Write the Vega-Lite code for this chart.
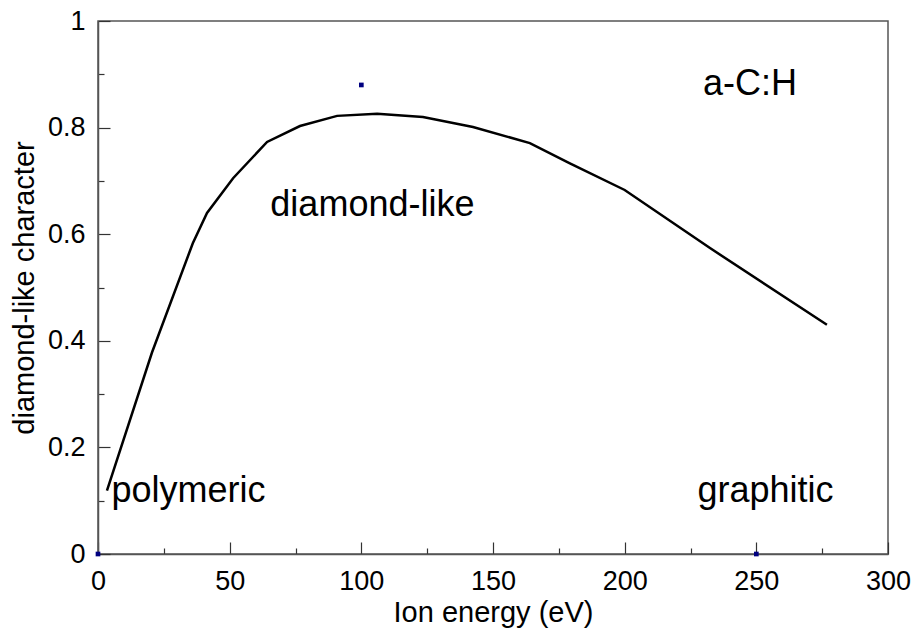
{
  "$schema": "https://vega.github.io/schema/vega-lite/v6.json",
  "width": 790,
  "height": 533,
  "autosize": {"type": "none"},
  "padding": {"left": 98, "top": 21, "right": 25, "bottom": 77},
  "background": "white",
  "config": {
    "font": "Liberation Sans",
    "view": {"stroke": "#555555", "strokeWidth": 1.5},
    "axis": {
      "domainColor": "#555555",
      "domainWidth": 1.5,
      "tickColor": "#333333",
      "tickWidth": 1.2,
      "grid": false,
      "labelFont": "Liberation Sans",
      "labelFontSize": 27,
      "labelColor": "black",
      "titleFont": "Liberation Sans",
      "titleFontSize": 29,
      "titleFontWeight": "normal",
      "titleColor": "black"
    }
  },
  "datasets": {
    "curve": [
      {"energy": 3.4, "dlc": 0.119},
      {"energy": 20.5, "dlc": 0.378},
      {"energy": 36.0, "dlc": 0.583},
      {"energy": 41.4, "dlc": 0.640},
      {"energy": 51.3, "dlc": 0.705},
      {"energy": 64.2, "dlc": 0.773},
      {"energy": 76.7, "dlc": 0.803},
      {"energy": 90.8, "dlc": 0.822},
      {"energy": 106.0, "dlc": 0.826},
      {"energy": 123.4, "dlc": 0.820},
      {"energy": 142.4, "dlc": 0.801},
      {"energy": 164.0, "dlc": 0.771},
      {"energy": 179.2, "dlc": 0.733},
      {"energy": 200.0, "dlc": 0.683},
      {"energy": 232.4, "dlc": 0.574},
      {"energy": 276.8, "dlc": 0.430}
    ],
    "points": [
      {"energy": 0, "dlc": 0},
      {"energy": 100, "dlc": 0.88},
      {"energy": 250, "dlc": 0}
    ],
    "labels": [
      {"energy": 247.6, "dlc": 0.862, "text": "a-C:H"},
      {"energy": 104.2, "dlc": 0.634, "text": "diamond-like"},
      {"energy": 34.4, "dlc": 0.098, "text": "polymeric"},
      {"energy": 253.5, "dlc": 0.098, "text": "graphitic"}
    ]
  },
  "layer": [
    {
      "data": {"name": "curve"},
      "mark": {"type": "line", "color": "black", "strokeWidth": 2.5},
      "encoding": {
        "x": {
          "field": "energy",
          "type": "quantitative",
          "scale": {"domain": [0, 300], "nice": false, "zero": false},
          "axis": {
            "title": "Ion energy (eV)",
            "values": [0, 25, 50, 75, 100, 125, 150, 175, 200, 225, 250, 275, 300],
            "labelExpr": "datum.value % 50 === 0 ? datum.label : ''",
            "tickSize": {"condition": {"test": "datum.value % 50 === 0", "value": -12}, "value": -6},
            "labelPadding": 26,
            "labelFlush": false,
            "labelOverlap": false,
            "titlePadding": -2
          }
        },
        "y": {
          "field": "dlc",
          "type": "quantitative",
          "scale": {"domain": [0, 1], "nice": false},
          "axis": {
            "title": "diamond-like character",
            "values": [0, 0.1, 0.2, 0.3, 0.4, 0.5, 0.6, 0.7, 0.8, 0.9, 1],
            "format": "~g",
            "labelExpr": "round(datum.value * 10) % 2 === 0 ? datum.label : ''",
            "tickSize": {"condition": {"test": "round(datum.value * 10) % 2 === 0", "value": -12}, "value": -6},
            "labelPadding": 25,
            "labelFlush": false,
            "labelOverlap": false,
            "titlePadding": 8
          }
        }
      }
    },
    {
      "data": {"name": "points"},
      "mark": {"type": "square", "color": "#000080", "filled": true, "size": 22, "opacity": 1},
      "encoding": {
        "x": {"field": "energy", "type": "quantitative"},
        "y": {"field": "dlc", "type": "quantitative"}
      }
    },
    {
      "data": {"name": "labels"},
      "mark": {"type": "text", "font": "Liberation Sans", "fontSize": 36, "align": "center", "baseline": "alphabetic", "color": "black"},
      "encoding": {
        "x": {"field": "energy", "type": "quantitative"},
        "y": {"field": "dlc", "type": "quantitative"},
        "text": {"field": "text", "type": "nominal"}
      }
    }
  ]
}
